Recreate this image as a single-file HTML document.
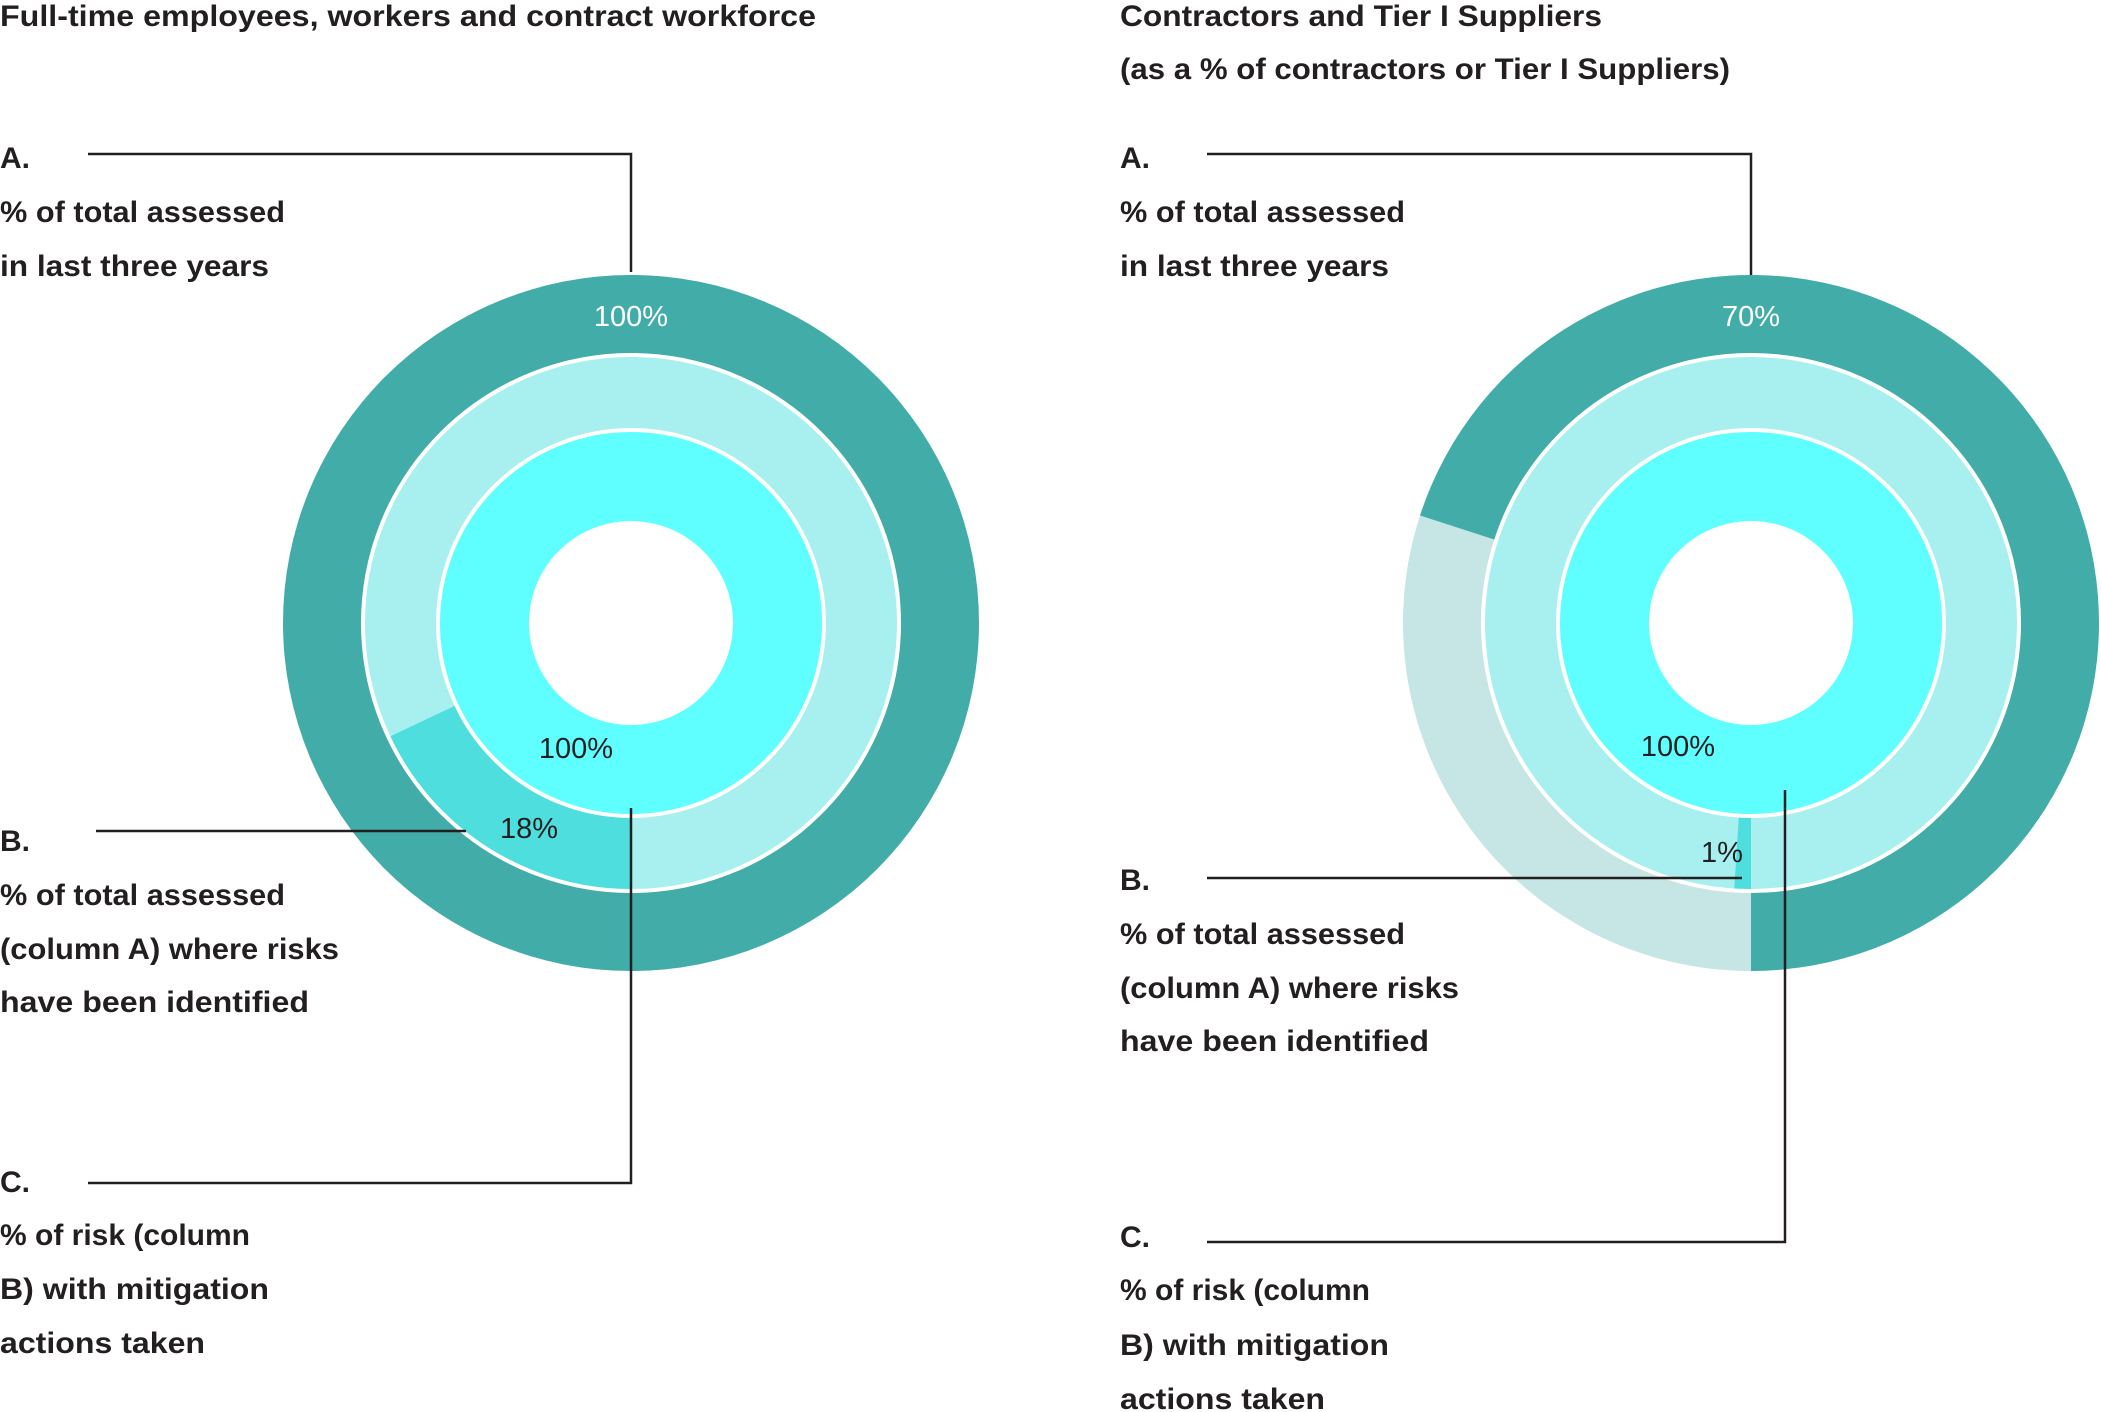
<!DOCTYPE html>
<html><head><meta charset="utf-8"><style>
html,body{margin:0;padding:0;background:#fff;}
svg{display:block;}
text{font-family:"Liberation Sans",sans-serif;}
.h{font-weight:bold;font-size:30px;fill:#231F20;}
.p{font-size:29px;}
</style></head><body>
<svg id="chart" width="2101" height="1412" viewBox="0 0 2101 1412" xmlns="http://www.w3.org/2000/svg">
<g>
<text class="h" x="0" y="26" textLength="816" lengthAdjust="spacingAndGlyphs">Full-time employees, workers and contract workforce</text>
</g>
<g>
<text class="h" x="1120" y="26" textLength="482" lengthAdjust="spacingAndGlyphs">Contractors and Tier I Suppliers</text>
<text class="h" x="1120" y="79" textLength="610" lengthAdjust="spacingAndGlyphs">(as a % of contractors or Tier I Suppliers)</text>
</g>
<g>
<text class="h" x="0" y="168">A.</text>
<text class="h" x="0" y="222" textLength="285" lengthAdjust="spacingAndGlyphs">% of total assessed</text>
<text class="h" x="0" y="276" textLength="269" lengthAdjust="spacingAndGlyphs">in last three years</text>
</g>
<g>
<text class="h" x="0" y="851">B.</text>
<text class="h" x="0" y="905" textLength="285" lengthAdjust="spacingAndGlyphs">% of total assessed</text>
<text class="h" x="0" y="959" textLength="339" lengthAdjust="spacingAndGlyphs">(column A) where risks</text>
<text class="h" x="0" y="1012" textLength="309" lengthAdjust="spacingAndGlyphs">have been identified</text>
</g>
<g>
<text class="h" x="0" y="1192">C.</text>
<text class="h" x="0" y="1245" textLength="250" lengthAdjust="spacingAndGlyphs">% of risk (column</text>
<text class="h" x="0" y="1299" textLength="269" lengthAdjust="spacingAndGlyphs">B) with mitigation</text>
<text class="h" x="0" y="1353" textLength="205" lengthAdjust="spacingAndGlyphs">actions taken</text>
</g>
<g>
<text class="h" x="1120" y="168">A.</text>
<text class="h" x="1120" y="222" textLength="285" lengthAdjust="spacingAndGlyphs">% of total assessed</text>
<text class="h" x="1120" y="276" textLength="269" lengthAdjust="spacingAndGlyphs">in last three years</text>
</g>
<g>
<text class="h" x="1120" y="890">B.</text>
<text class="h" x="1120" y="944" textLength="285" lengthAdjust="spacingAndGlyphs">% of total assessed</text>
<text class="h" x="1120" y="998" textLength="339" lengthAdjust="spacingAndGlyphs">(column A) where risks</text>
<text class="h" x="1120" y="1051" textLength="309" lengthAdjust="spacingAndGlyphs">have been identified</text>
</g>
<g>
<text class="h" x="1120" y="1247">C.</text>
<text class="h" x="1120" y="1300" textLength="250" lengthAdjust="spacingAndGlyphs">% of risk (column</text>
<text class="h" x="1120" y="1355" textLength="269" lengthAdjust="spacingAndGlyphs">B) with mitigation</text>
<text class="h" x="1120" y="1409" textLength="205" lengthAdjust="spacingAndGlyphs">actions taken</text>
</g>
<g id="rings"></g>
<g id="leaders" fill="none" stroke="#231F20" stroke-width="2.5">
<polyline points="88,154 631,154 631,272"/>
<polyline points="96,831 466,831"/>
<polyline points="631,808 631,1183 88,1183"/>
<polyline points="1207,154 1751,154 1751,275"/>
<polyline points="1207,878 1742,878"/>
<polyline points="1785,790 1785,1242 1207,1242"/>
</g>
</svg>
<script>
const leftOuter = [100];
const leftMiddle = [18];
const leftInner = [100];
const rightOuter = [70];
const rightMiddle = [1];
const rightInner = [100];

const NS = "http://www.w3.org/2000/svg";
const R_OUT = 348, R_MID = 268, R_IN = 193, R_HOLE = 102;
const C_DARK = "#41ACA8", C_REST = "#C5E6E4", C_MID = "#A8F0EF", C_SEG = "#4EDEDE", C_CYAN = "#5FFFFF";
const rings = document.getElementById("rings");

function ang(pct) { return pct / 100 * 360; }
function pt(cx, cy, r, a) { const t = a * Math.PI / 180; return [cx + r * Math.sin(t), cy - r * Math.cos(t)]; }
function sector(cx, cy, r0, r1, a0, a1) {
  let span = a1 - a0;
  if (span >= 359.99) {
    return `M${cx - r1},${cy} A${r1},${r1} 0 1 1 ${cx + r1},${cy} A${r1},${r1} 0 1 1 ${cx - r1},${cy} Z ` +
           `M${cx - r0},${cy} A${r0},${r0} 0 1 0 ${cx + r0},${cy} A${r0},${r0} 0 1 0 ${cx - r0},${cy} Z`;
  }
  const large = span > 180 ? 1 : 0;
  const p1 = pt(cx, cy, r1, a0), p2 = pt(cx, cy, r1, a1), p3 = pt(cx, cy, r0, a1), p4 = pt(cx, cy, r0, a0);
  return `M${p1[0]},${p1[1]} A${r1},${r1} 0 ${large} 1 ${p2[0]},${p2[1]} L${p3[0]},${p3[1]} A${r0},${r0} 0 ${large} 0 ${p4[0]},${p4[1]} Z`;
}
function addPath(d, fill, name) {
  const p = document.createElementNS(NS, "path");
  p.setAttribute("d", d);
  p.setAttribute("fill", fill);
  p.setAttribute("fill-rule", "evenodd");
  
  
  rings.appendChild(p);
}
function addCircle(cx, cy, r, name) {
  const c = document.createElementNS(NS, "circle");
  c.setAttribute("cx", cx); c.setAttribute("cy", cy); c.setAttribute("r", r);
  c.setAttribute("fill", "none"); c.setAttribute("stroke", "#fff"); c.setAttribute("stroke-width", "4");
  
  
  rings.appendChild(c);
}
function addLabel(x, y, str, fill, name) {
  const t = document.createElementNS(NS, "text");
  t.setAttribute("x", x); t.setAttribute("y", y);
  t.setAttribute("text-anchor", "middle");
  t.setAttribute("class", "p");
  t.setAttribute("fill", fill);
  t.textContent = str;
  
  
  rings.appendChild(t);
}
function donut(cx, cy, outer, middle, inner, prefix, labels) {
  // outer ring: value drawn counter-clockwise from bottom, remainder clockwise
  const oSpan = ang(outer[0]);
  if (outer[0] < 100) addPath(sector(cx, cy, R_MID, R_OUT, 180, 180 + 360 - oSpan), C_REST, prefix + "-outer-remainder");
  addPath(sector(cx, cy, R_MID, R_OUT, 180 - oSpan, 180), C_DARK, prefix + "-outer-assessed");
  // middle ring base and segment clockwise from bottom
  addPath(sector(cx, cy, R_IN, R_MID, 0, 360), C_MID, prefix + "-middle-ring");
  addPath(sector(cx, cy, R_IN, R_MID, 180, 180 + ang(middle[0])), C_SEG, prefix + "-middle-risk");
  // inner ring
  addPath(sector(cx, cy, R_HOLE, R_IN, 180, 180 + ang(inner[0])), C_CYAN, prefix + "-inner-mitigation");
  addCircle(cx, cy, R_MID, prefix + "-middle-border");
  addCircle(cx, cy, R_IN, prefix + "-inner-border");
  addLabel(cx, 326, outer[0] + "%", "#fff", prefix + "-outer-value");
  addLabel(labels[0], labels[1], inner[0] + "%", "#231F20", prefix + "-inner-value");
  addLabel(labels[2], labels[3], middle[0] + "%", "#231F20", prefix + "-middle-value");
}
donut(631, 623, leftOuter, leftMiddle, leftInner, "left", [576, 758, 529, 838]);
donut(1751, 623, rightOuter, rightMiddle, rightInner, "right", [1678, 756, 1722, 862]);
</script>
</body></html>
